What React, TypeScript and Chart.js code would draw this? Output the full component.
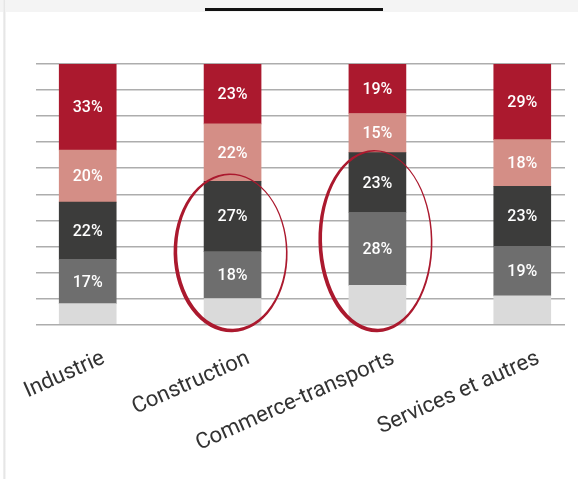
import React, { useEffect, useRef } from "react";
import { Chart, registerables } from "chart.js";

Chart.register(...registerables);

const categories = ["Industrie", "Construction", "Commerce-transports", "Services et autres"];
const seriesTop = [33, 23, 19, 29];
const seriesUpper = [20, 22, 15, 18];
const seriesMiddle = [22, 27, 23, 23];
const seriesLower = [17, 18, 28, 19];
const seriesBase = [8, 10, 15, 11];
const yMin = 0;
const yMax = 100;
const yStep = 10;
const highlightCategories = [1, 2];
const highlightTop = [58, 67];
const highlightBottom = [-3, -3];

const COLORS = {
  top: "#AB192E",
  upper: "#D48E86",
  middle: "#3C3C3B",
  lower: "#6E6E6E",
  base: "#DADADA",
  grid: "#ADADAD",
  ellipse: "#AB192E",
};

const toPoints = (arr: number[]) => arr.map((v, i) => ({ x: i, y: v }));

const valueLabels = {
  id: "valueLabels",
  afterDatasetsDraw(chart: any) {
    const ctx = chart.ctx;
    ctx.save();
    ctx.fillStyle = "#ffffff";
    ctx.font = "500 16px Roboto";
    ctx.textAlign = "center";
    ctx.textBaseline = "middle";
    chart.data.datasets.forEach((ds: any, di: number) => {
      if (!ds.showLabel) return;
      const meta = chart.getDatasetMeta(di);
      meta.data.forEach((el: any, i: number) => {
        const p = el.getProps(["x", "y", "base"], true);
        const v = ds.data[i].y;
        ctx.fillText(`${v}%`, p.x, (p.y + p.base) / 2 + 1);
      });
    });
    ctx.restore();
  },
};

const highlightEllipses = {
  id: "highlightEllipses",
  afterDatasetsDraw(chart: any) {
    const ctx = chart.ctx;
    const xs = chart.scales.x;
    const ys = chart.scales.y;
    ctx.save();
    ctx.fillStyle = COLORS.ellipse;
    highlightCategories.forEach((c, k) => {
      const cx = xs.getPixelForValue(c) - 2;
      const yt = ys.getPixelForValue(highlightTop[k]);
      const yb = ys.getPixelForValue(highlightBottom[k]);
      const cy = (yt + yb) / 2;
      const ry = (yb - yt) / 2;
      const rx = 57;
      ctx.beginPath();
      ctx.ellipse(cx, cy, rx, ry, -0.02, 0, Math.PI * 2);
      ctx.ellipse(cx + 1, cy - 1, rx - 2.6, ry - 2.6, -0.02, 0, Math.PI * 2);
      ctx.fill("evenodd");
    });
    ctx.restore();
  },
};

export default function App() {
  const ref = useRef<HTMLCanvasElement | null>(null);
  useEffect(() => {
    if (!ref.current) return;
    const mk = (label: string, data: number[], color: string, showLabel: boolean) => ({
      label,
      data: toPoints(data),
      backgroundColor: color,
      borderWidth: 0,
      barThickness: 57,
      showLabel,
    });
    const chart = new Chart(ref.current, {
      type: "bar",
      data: {
        datasets: [
          mk("base", seriesBase, COLORS.base, false),
          mk("lower", seriesLower, COLORS.lower, true),
          mk("middle", seriesMiddle, COLORS.middle, true),
          mk("upper", seriesUpper, COLORS.upper, true),
          mk("top", seriesTop, COLORS.top, true),
        ] as any,
      },
      options: {
        animation: false,
        responsive: false,
        layout: { padding: { left: 36, right: 13, top: 64, bottom: 9 } },
        plugins: { legend: { display: false }, tooltip: { enabled: false } },
        scales: {
          x: {
            type: "linear",
            bounds: "data",
            offset: false,
            stacked: true,
            min: -0.357,
            max: 3.295,
            grid: { display: false, offset: false },
            border: { display: false },
            afterBuildTicks: (axis: any) => {
              axis.ticks = categories.map((_, i) => ({ value: i }));
            },
            afterFit: (axis: any) => {
              axis.paddingLeft = 0;
              axis.paddingRight = 0;
            },
            ticks: {
              autoSkip: false,
              minRotation: 24,
              maxRotation: 24,
              padding: 13,
              labelOffset: 16,
              color: "#333333",
              font: { family: "Roboto", size: 22 },
              callback: (v: any) => categories[Math.round(Number(v))] ?? "",
            },
          },
          y: {
            stacked: true,
            min: yMin,
            max: yMax,
            ticks: { display: false, stepSize: yStep },
            border: { display: false },
            grid: { color: COLORS.grid, lineWidth: 1.5, drawTicks: false },
          },
        },
      },
      plugins: [valueLabels, highlightEllipses],
    } as any);
    return () => chart.destroy();
  }, []);
  return (
    <div style={{ position: "absolute", left: 0, top: 0, width: 578, height: 479, background: "#fff", overflow: "hidden" }}>
      <div style={{ position: "absolute", left: 0, top: 0, width: 578, height: 12, background: "#f4f4f4" }} />
      <div style={{ position: "absolute", left: 205, top: 8, width: 178, height: 3, background: "#111" }} />
      <div style={{ position: "absolute", left: 3, top: 0, width: 3, height: 479, background: "linear-gradient(90deg, #f2f2f2, #e6e6e6, #fafafa)" }} />
      <canvas ref={ref} width={578} height={479} style={{ position: "absolute", left: 0, top: 0 }} />
    </div>
  );
}
